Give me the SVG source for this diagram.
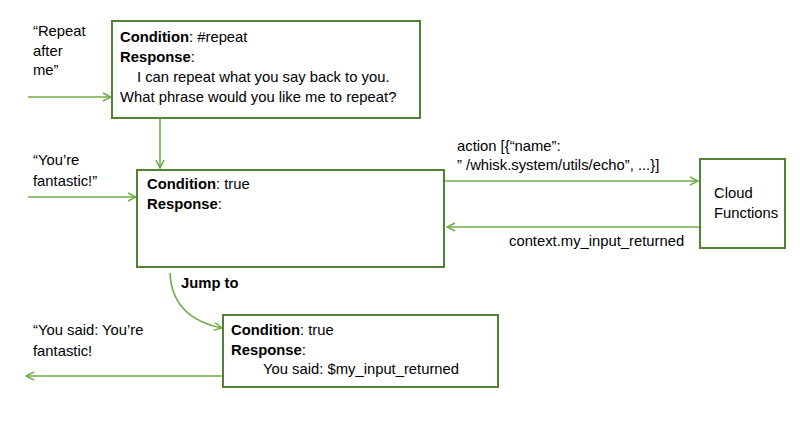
<svg xmlns="http://www.w3.org/2000/svg" width="800" height="421" viewBox="0 0 800 421">
<defs>
<marker id="arr" viewBox="0 0 10 10" refX="9" refY="5" markerWidth="10" markerHeight="10" markerUnits="userSpaceOnUse" orient="auto">
<path d="M1,1 L9,5 L1,9" fill="none" stroke="#70AD47" stroke-width="1.5"/>
</marker>
<style>
.box{fill:#fff;stroke:#548235;stroke-width:2}
.con{fill:none;stroke:#70AD47;stroke-width:1.6;marker-end:url(#arr)}
text{font-family:"Liberation Sans",Arial,sans-serif;font-size:14.8px;fill:#000}
.b{font-weight:bold}
</style>
</defs>
<g id="connectors">
<line class="con" x1="28" y1="97" x2="111" y2="97"/>
<line class="con" x1="160" y1="119" x2="160" y2="168"/>
<line class="con" x1="28" y1="197" x2="136" y2="197"/>
<line class="con" x1="445" y1="181" x2="698" y2="181"/>
<line class="con" x1="699" y1="227" x2="447" y2="227"/>
<path class="con" d="M170,273 Q172,318 222,328"/>
<line class="con" x1="223" y1="376" x2="26" y2="376"/>
</g>
<g id="labels">
<text x="33" y="36">“Repeat</text>
<text x="33" y="56">after</text>
<text x="33" y="75">me”</text>
<text x="33" y="165">“You’re</text>
<text x="33" y="186">fantastic!”</text>
<text x="457" y="151">action [{“name”:</text>
<text x="457" y="170">” /whisk.system/utils/echo”, ...}]</text>
<text x="509" y="246">context.my_input_returned</text>
<text class="b" x="181" y="288">Jump to</text>
<text x="33" y="335">“You said: You’re</text>
<text x="33" y="356">fantastic!</text>
</g>
<g id="node-repeat">
<rect class="box" x="112" y="21" width="308" height="97"/>
<text x="120" y="42"><tspan class="b">Condition</tspan>: #repeat</text>
<text x="120" y="62"><tspan class="b">Response</tspan>:</text>
<text x="137" y="82">I can repeat what you say back to you.</text>
<text x="120" y="102">What phrase would you like me to repeat?</text>
</g>
<g id="node-true1">
<rect class="box" x="137" y="170" width="307" height="97"/>
<text x="147" y="189"><tspan class="b">Condition</tspan>: true</text>
<text x="147" y="209"><tspan class="b">Response</tspan>:</text>
</g>
<g id="node-cloud">
<rect class="box" x="700" y="159" width="85" height="89"/>
<text x="714" y="198">Cloud</text>
<text x="714" y="218">Functions</text>
</g>
<g id="node-true2">
<rect class="box" x="223" y="315" width="275" height="72"/>
<text x="231" y="335"><tspan class="b">Condition</tspan>: true</text>
<text x="231" y="355"><tspan class="b">Response</tspan>:</text>
<text x="263" y="374">You said: $my_input_returned</text>
</g>
</svg>
